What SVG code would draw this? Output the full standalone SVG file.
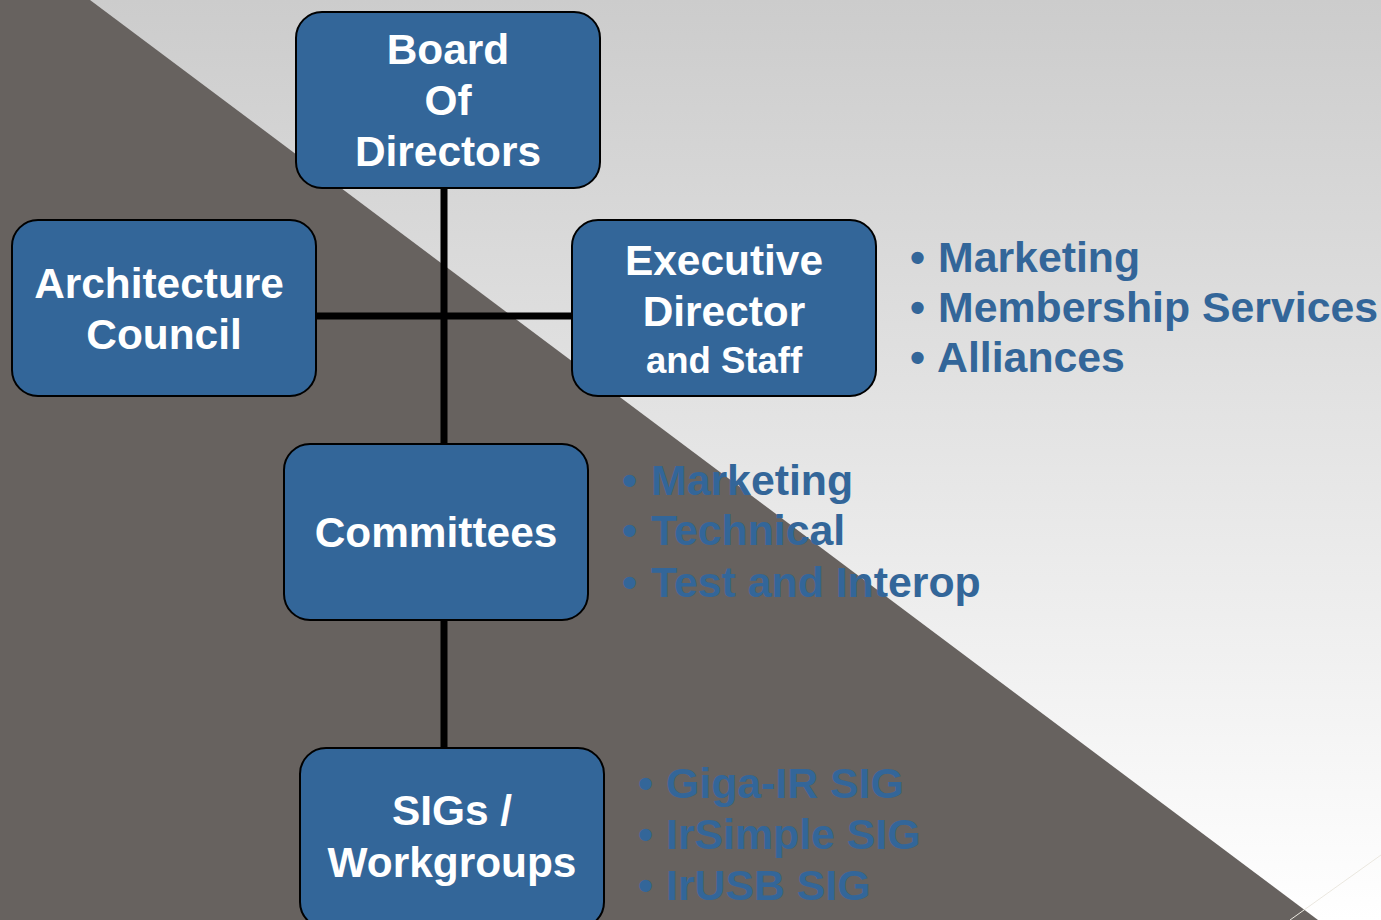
<svg xmlns="http://www.w3.org/2000/svg" width="1381" height="920" viewBox="0 0 1381 920">
<defs>
<linearGradient id="bg" x1="0" y1="0" x2="0" y2="1">
<stop offset="0" stop-color="#cccccc"/>
<stop offset="1" stop-color="#ffffff"/>
</linearGradient>
<style>
.box{fill:#336699;stroke:#000;stroke-width:2}
.lbl{font-family:"Liberation Sans",Arial,sans-serif;font-weight:bold;fill:#fff;text-anchor:middle;font-size:42.4px}
.sm{font-size:36.5px}
.bul{font-family:"Liberation Sans",Arial,sans-serif;font-weight:bold;fill:#336699;font-size:42.8px}
.conn{stroke:#000;stroke-width:7;fill:none}
</style>
</defs>
<rect width="1381" height="920" fill="url(#bg)"/>
<polygon points="0,0 90,0 1318,920 0,920" fill="#67625f"/>
<line x1="1290" y1="920" x2="1381" y2="855" stroke="#ebe7df" stroke-width="1"/>
<g id="connectors">
<line class="conn" x1="444" y1="188" x2="444" y2="444"/>
<line class="conn" x1="316" y1="316" x2="572" y2="316"/>
<line class="conn" x1="444" y1="620" x2="444" y2="748"/>
</g>
<g id="board">
<rect class="box" x="296" y="12" width="304" height="176" rx="26"/>
<text class="lbl" x="448" y="64">Board</text>
<text class="lbl" x="448" y="115">Of</text>
<text class="lbl" x="448" y="166">Directors</text>
</g>
<g id="architecture">
<rect class="box" x="12" y="220" width="304" height="176" rx="26"/>
<text class="lbl" x="159" y="298">Architecture</text>
<text class="lbl" x="164" y="349">Council</text>
</g>
<g id="executive">
<rect class="box" x="572" y="220" width="304" height="176" rx="26"/>
<text class="lbl" x="724" y="275">Executive</text>
<text class="lbl" x="724" y="326">Director</text>
<text class="lbl sm" x="724" y="373">and Staff</text>
</g>
<g id="committees">
<rect class="box" x="284" y="444" width="304" height="176" rx="26"/>
<text class="lbl" x="436" y="547">Committees</text>
</g>
<g id="sigs">
<rect class="box" x="300" y="748" width="304" height="180" rx="26"/>
<text class="lbl" x="452" y="825">SIGs /</text>
<text class="lbl" x="452" y="877">Workgroups</text>
</g>
<g id="exec-list">
<text class="bul" y="272"><tspan x="910">•</tspan><tspan x="938">Marketing</tspan></text>
<text class="bul" y="322"><tspan x="910">•</tspan><tspan x="938">Membership Services</tspan></text>
<text class="bul" y="372"><tspan x="910">•</tspan><tspan x="937">Alliances</tspan></text>
</g>
<g id="committee-list">
<text class="bul" y="495"><tspan x="622">•</tspan><tspan x="651">Marketing</tspan></text>
<text class="bul" y="545"><tspan x="622">•</tspan><tspan x="651">Technical</tspan></text>
<text class="bul" y="597"><tspan x="622">•</tspan><tspan x="651">Test and Interop</tspan></text>
</g>
<g id="sig-list">
<text class="bul" y="798"><tspan x="638">•</tspan><tspan x="666">Giga-IR SIG</tspan></text>
<text class="bul" y="849"><tspan x="638">•</tspan><tspan x="666">IrSimple SIG</tspan></text>
<text class="bul" y="900"><tspan x="638">•</tspan><tspan x="666">IrUSB SIG</tspan></text>
</g>
</svg>
